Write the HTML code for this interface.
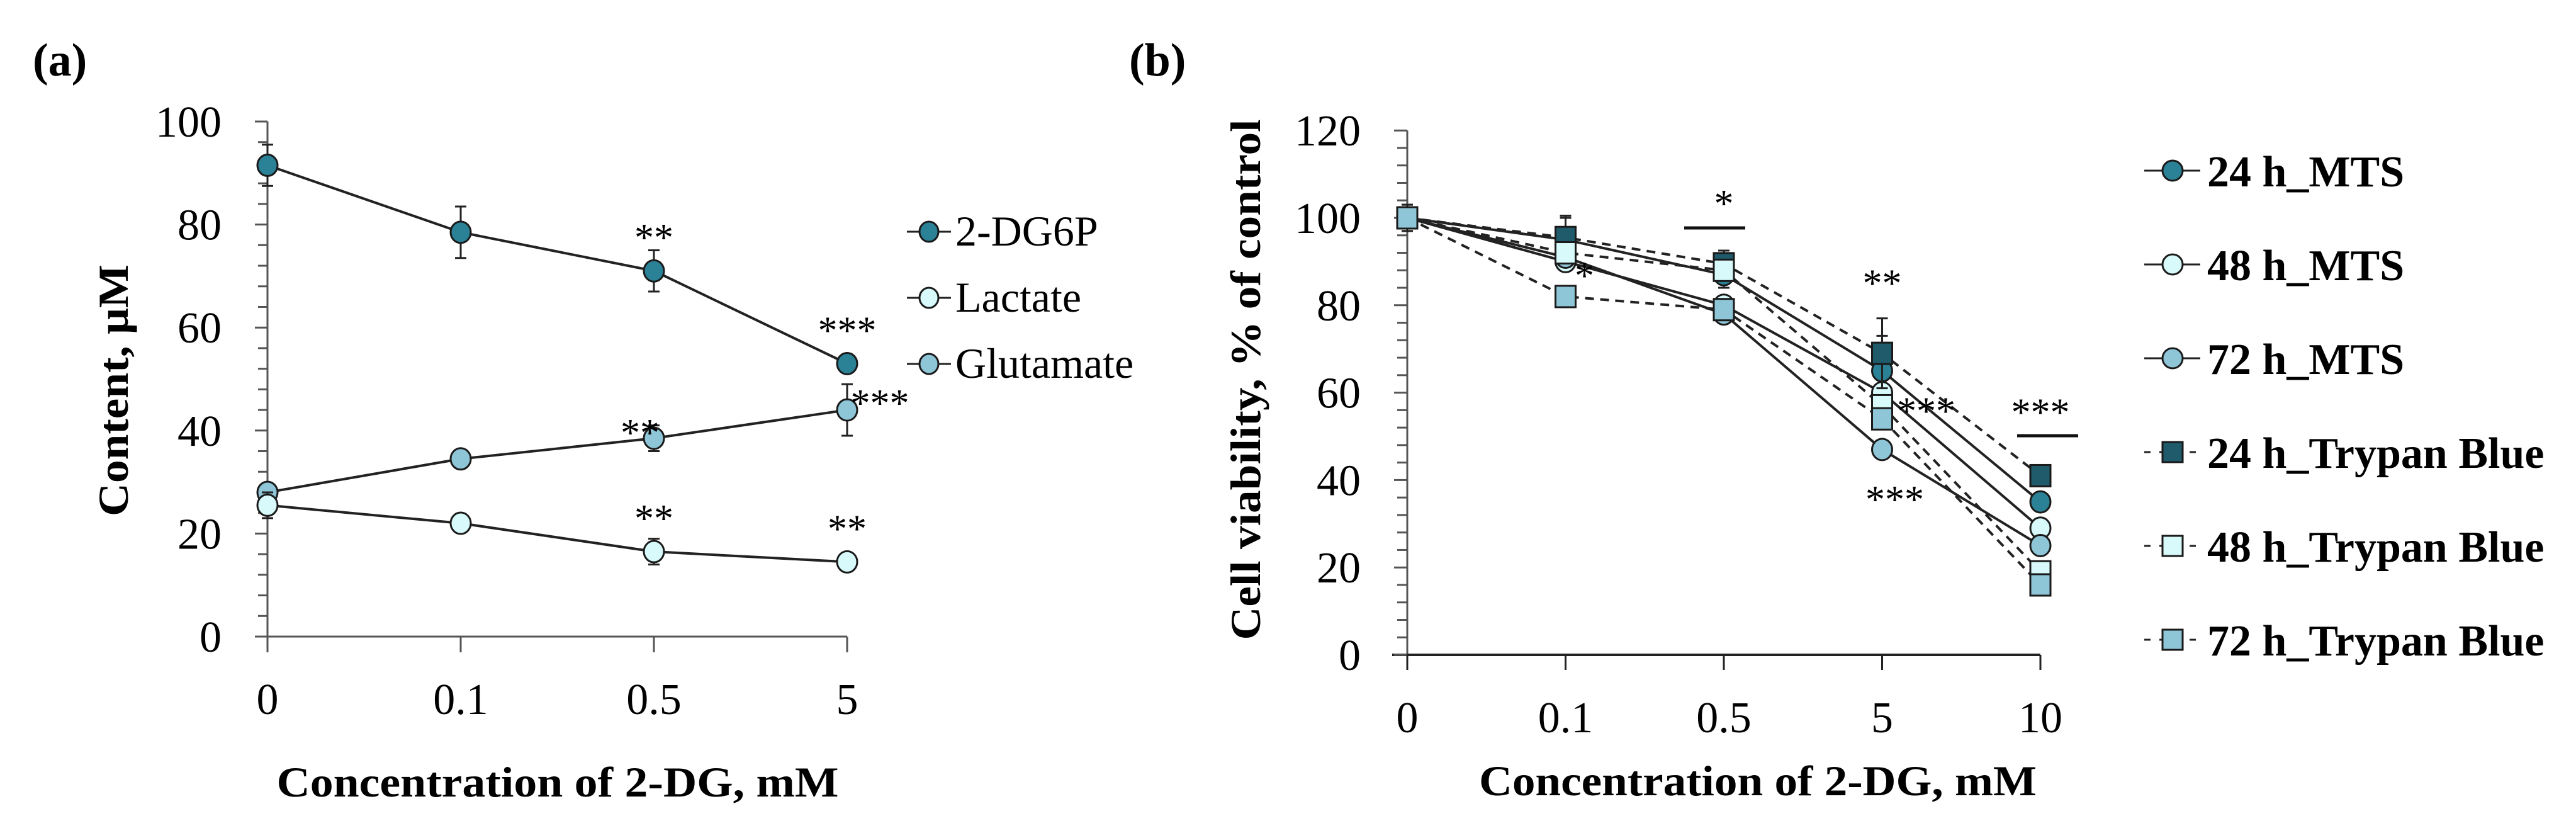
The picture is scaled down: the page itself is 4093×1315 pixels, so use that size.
<!DOCTYPE html>
<html><head><meta charset="utf-8"><style>
html,body{margin:0;padding:0;background:#fff;}
svg{display:block;font-family:"Liberation Serif",serif;}
</style></head><body>
<svg id="fig" width="4093" height="1315" viewBox="0 0 4093 1315" xmlns="http://www.w3.org/2000/svg">
<rect width="4093" height="1315" fill="#fff"/>
<g id="pa"></g>
<g id="pb"></g>
</svg>
<script>
// ---- Panel A data ----
const catsA = ["0","0.1","0.5","5"];
const yTicksA = [0,20,40,60,80,100];
const dg6p = [91.5,78.5,71,53];
const dg6pErr = [4,5,4,1];
const lactate = [25.5,22,16.5,14.5];
const lactateErr = [2.5,1,2.5,0.5];
const glutamate = [28,34.5,38.5,44];
const glutamateErr = [1.5,1.5,2.5,5];
const seriesNamesA = ["2-DG6P","Lactate","Glutamate"];
const sigA = [[2,"**",0],[3,"***",0],[2,"**",2],[3,"***",2],[2,"**",1],[3,"**",1]];

// ---- Panel B data ----
const catsB = ["0","0.1","0.5","5","10"];
const yTicksB = [0,20,40,60,80,100,120];
const mts24 = [100,95,87,65,35];
const mts48 = [100,90,80,60,29];
const mts72 = [100,91,78,47,25];
const tb24 = [100,95.5,89.5,69,41];
const tb48 = [100,92,88,57,19];
const tb72 = [100,82,79,54,16];
const errB24 = [3,5,3,8,2];
const seriesNamesB = ["24 h_MTS","48 h_MTS","72 h_MTS","24 h_Trypan Blue","48 h_Trypan Blue","72 h_Trypan Blue"];

const NS="http://www.w3.org/2000/svg";
function mk(parent,tag,attrs,text){const e=document.createElementNS(NS,tag);for(const k in attrs)e.setAttribute(k,attrs[k]);if(text!==undefined)e.textContent=text;parent.appendChild(e);return e;}

const C_DARK="#2b8196", C_LIGHT="#d8fafa", C_MID="#8ec6d8", C_SQD="#1f5b6b";

// ---------- Panel A ----------
const pa=document.getElementById('pa');
const xA=i=>425+i*307;
const yA=v=>1011-v*8.18;
let t;
t=mk(pa,'text',{x:52,y:120,'font-size':74,'font-weight':'bold'},'(a)');

let ax=mk(pa,'line',{x1:425,y1:yA(100),x2:425,y2:yA(0),stroke:'#555','stroke-width':3});

ax=mk(pa,'line',{x1:410,y1:yA(0),x2:xA(3),y2:yA(0),stroke:'#555','stroke-width':3});

for(let v=0;v<=100;v+=4){const maj=v%20===0;const l=mk(pa,'line',{x1:maj?405:410,y1:yA(v),x2:425,y2:yA(v),stroke:'#555','stroke-width':3});
}
yTicksA.forEach(v=>{const e=mk(pa,'text',{x:352,y:yA(v)+24,'font-size':70,'text-anchor':'end'},String(v));
});
catsA.forEach((c,i)=>{const l=mk(pa,'line',{x1:xA(i),y1:yA(0),x2:xA(i),y2:yA(0)+25,stroke:'#555','stroke-width':3});

const e=mk(pa,'text',{x:xA(i),y:1134,'font-size':70,'text-anchor':'middle'},c);
});
t=mk(pa,'text',{x:886,y:1265,'font-size':68,'font-weight':'bold','text-anchor':'middle',textLength:893,lengthAdjust:'spacingAndGlyphs'},'Concentration of 2-DG, mM');

t=mk(pa,'text',{x:0,y:0,'font-size':68,'font-weight':'bold','text-anchor':'middle',transform:'translate(203,620) rotate(-90)',textLength:400,lengthAdjust:'spacingAndGlyphs'},'Content, μM');


function drawSeries(g,vals,errs,xf,yf,fill,shape,dash,name){
  const sg=mk(g,'g',{});
  
  const pts=vals.map((v,i)=>xf(i)+','+yf(v)).join(' ');
  const pl=mk(sg,'polyline',{points:pts,fill:'none',stroke:'#222','stroke-width':4,'stroke-dasharray':dash?'14 10':'none'});
  
  if(errs){vals.forEach((v,i)=>{const x=xf(i),y1=yf(v+errs[i]),y2=yf(v-errs[i]);
    const p=mk(sg,'path',{d:`M${x},${y1}V${y2}M${x-9},${y1}H${x+9}M${x-9},${y2}H${x+9}`,stroke:'#222','stroke-width':3,fill:'none'});
    });}
  vals.forEach((v,i)=>{let m;
    if(shape==='c')m=mk(sg,'ellipse',{cx:xf(i),cy:yf(v),rx:16,ry:17,fill:fill,stroke:'#1a1a1a','stroke-width':3});
    else m=mk(sg,'rect',{x:xf(i)-16,y:yf(v)-17,width:32,height:34,fill:fill,stroke:'#1a1a1a','stroke-width':3});
    });
}
drawSeries(pa,dg6p,dg6pErr,xA,yA,C_DARK,'c',false,'series-2dg6p');
drawSeries(pa,glutamate,glutamateErr,xA,yA,C_MID,'c',false,'series-glutamate');
drawSeries(pa,lactate,lactateErr,xA,yA,C_LIGHT,'c',false,'series-lactate');
const serA=[dg6p,lactate,glutamate];
const sigOff={"**":[0,-55],"***":[0,-55]};
sigA.forEach(([i,s,k])=>{let x=xA(i),y=yA(serA[k][i])-62;
  if(k===2&&i===3){x=xA(i)+52;y=yA(serA[k][i])-20;}
  if(k===2&&i===2){x=xA(i)-22;y=yA(serA[k][i])-18;}
  const e=mk(pa,'text',{x:x,y:y+30,'font-size':62,'text-anchor':'middle'},s);
  });
const legColsA=[C_DARK,C_LIGHT,C_MID];
seriesNamesA.forEach((n,i)=>{const y=368+i*105;const lg=mk(pa,'g',{});
  
  mk(lg,'line',{x1:1441,y1:y,x2:1511,y2:y,stroke:'#222','stroke-width':3});
  mk(lg,'ellipse',{cx:1476,cy:y,rx:15,ry:16,fill:legColsA[i],stroke:'#1a1a1a','stroke-width':3});
  mk(lg,'text',{x:1518,y:y+22,'font-size':68},n);});

// ---------- Panel B ----------
const pb=document.getElementById('pb');
const xB=i=>2236+i*251.5;
const yB=v=>1040-v*6.94;
t=mk(pb,'text',{x:1794,y:120,'font-size':74,'font-weight':'bold'},'(b)');

ax=mk(pb,'line',{x1:2236,y1:yB(120),x2:2236,y2:yB(0),stroke:'#555','stroke-width':3});

ax=mk(pb,'line',{x1:2212,y1:yB(0),x2:xB(4),y2:yB(0),stroke:'#222','stroke-width':4});

for(let v=0;v<=120;v+=4){const maj=v%20===0;const l=mk(pb,'line',{x1:maj?2215:2220,y1:yB(v),x2:2236,y2:yB(v),stroke:'#555','stroke-width':3});
}
yTicksB.forEach(v=>{const e=mk(pb,'text',{x:2162,y:yB(v)+24,'font-size':70,'text-anchor':'end'},String(v));
});
catsB.forEach((c,i)=>{const l=mk(pb,'line',{x1:xB(i),y1:yB(0),x2:xB(i),y2:yB(0)+24,stroke:'#222','stroke-width':3});

const e=mk(pb,'text',{x:xB(i),y:1163,'font-size':70,'text-anchor':'middle'},c);
});
t=mk(pb,'text',{x:2793,y:1263,'font-size':68,'font-weight':'bold','text-anchor':'middle',textLength:886,lengthAdjust:'spacingAndGlyphs'},'Concentration of 2-DG, mM');

t=mk(pb,'text',{x:0,y:0,'font-size':68,'font-weight':'bold','text-anchor':'middle',transform:'translate(2002,603) rotate(-90)',textLength:827,lengthAdjust:'spacingAndGlyphs'},'Cell viability, % of control');


drawSeries(pb,mts24,errB24,xB,yB,C_DARK,'c',false,'series-24h-mts');
drawSeries(pb,mts48,null,xB,yB,C_LIGHT,'c',false,'series-48h-mts');
drawSeries(pb,mts72,null,xB,yB,C_MID,'c',false,'series-72h-mts');
drawSeries(pb,tb24,errB24,xB,yB,C_SQD,'s',true,'series-24h-trypan-blue');
drawSeries(pb,tb48,null,xB,yB,C_LIGHT,'s',true,'series-48h-trypan-blue');
drawSeries(pb,tb72,null,xB,yB,C_MID,'s',true,'series-72h-trypan-blue');

function sig(x,y,s,name){const e=mk(pb,'text',{x:x,y:y,'font-size':62,'text-anchor':'middle'},s);
  }
sig(xB(1)+30,yB(mts72[1])+50,'*','significance-marker-b');
sig(xB(2),yB(tb24[2])-75,'*','significance-marker-b');
let bar=mk(pb,'line',{x1:2676,y1:362,x2:2773,y2:362,stroke:'#111','stroke-width':5});

sig(xB(3),yB(tb24[3]+8)-35,'**','significance-marker-b');
sig(xB(3)+70,yB(mts48[3])+50,'***','significance-marker-b');
sig(xB(3)+20,yB(mts72[3])+100,'***','significance-marker-b');
sig(xB(4),yB(tb24[4])-80,'***','significance-marker-b');
bar=mk(pb,'line',{x1:3205,y1:692,x2:3302,y2:692,stroke:'#111','stroke-width':5});


const legColsB=[C_DARK,C_LIGHT,C_MID,C_SQD,C_LIGHT,C_MID];
seriesNamesB.forEach((n,i)=>{const y=271+i*149;const lg=mk(pb,'g',{});
  
  if(i<3){mk(lg,'line',{x1:3407,y1:y,x2:3496,y2:y,stroke:'#222','stroke-width':3});
    mk(lg,'ellipse',{cx:3452,cy:y,rx:16,ry:16,fill:legColsB[i],stroke:'#1a1a1a','stroke-width':3});}
  else{mk(lg,'line',{x1:3407,y1:y,x2:3496,y2:y,stroke:'#222','stroke-width':3,'stroke-dasharray':'10 14'});
    mk(lg,'rect',{x:3436,y:y-16,width:32,height:32,fill:legColsB[i],stroke:'#1a1a1a','stroke-width':3});}
  mk(lg,'text',{x:3507,y:y+25,'font-size':70,'font-weight':'bold'},n);});
</script>
</body></html>
